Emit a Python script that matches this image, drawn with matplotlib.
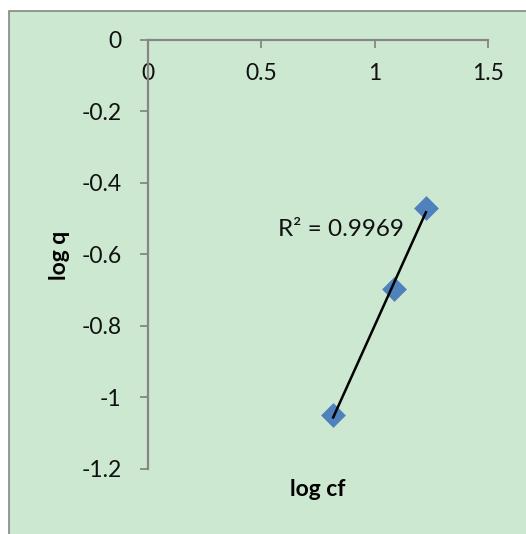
import numpy as np
import matplotlib
matplotlib.use("Agg")
import matplotlib.pyplot as plt
from matplotlib.patches import Rectangle

plt.rcParams['font.family'] = ['Lato', 'DejaVu Sans']

# data
log_cf = [0.817, 1.087, 1.226]
log_q = [-1.05, -0.697, -0.47]
x_ticks = [0, 0.5, 1, 1.5]
x_tick_labels = ["0", "0.5", "1", "1.5"]
y_ticks = [0, -0.2, -0.4, -0.6, -0.8, -1, -1.2]
y_tick_labels = ["0", "-0.2", "-0.4", "-0.6", "-0.8", "-1", "-1.2"]
r2_text = "R² = 0.9969"

W, H = 526, 534
fig = plt.figure(figsize=(W / 100, H / 100), dpi=100)
fig.patch.set_facecolor("white")

# chart area background with border
bg = Rectangle((8.5 / W, -0.01), 1.1, 1 - 10.5 / H + 0.01, transform=fig.transFigure,
               facecolor="#cde8d0", edgecolor="#868686", linewidth=1.2, zorder=-5)
fig.patches.append(bg)

ax = fig.add_axes([148 / W, 1 - 468.7 / H, 340 / W, (468.7 - 39.7) / H])
ax.set_zorder(2)
ax.set_facecolor("none")
ax.set_xlim(0, 1.5)
ax.set_ylim(-1.2, 0)

# linear trend line
slope, intercept = np.polyfit(log_cf, log_q, 1)
xs = np.array([min(log_cf), max(log_cf)])
ax.plot(xs, slope * xs + intercept, color="black", linewidth=1.8, zorder=3)

ax.scatter(log_cf, log_q, marker="D", s=160, color="#4f81bd", zorder=2, linewidths=0)

ax.text(0.575, -0.53, r2_text, fontsize=17.5, color="#111111", ha="left", va="center")

# axes like excel: x axis crossing at y=0
for s in ["top", "right"]:
    ax.spines[s].set_visible(False)
ax.spines["bottom"].set_position(("data", 0))
for s in ["bottom", "left"]:
    ax.spines[s].set_color("#868686")
    ax.spines[s].set_linewidth(1.6)

ax.set_xticks(x_ticks)
ax.set_xticklabels(x_tick_labels)
ax.set_yticks(y_ticks)
ax.set_yticklabels(y_tick_labels)
ax.tick_params(axis="both", direction="out", length=6, width=1.3, color="#868686",
               labelsize=16.5, labelcolor="#111111")
ax.tick_params(axis="x", pad=11)
ax.tick_params(axis="y", pad=13)

fig.text(318 / W, 1 - 489 / H, "log cf", fontsize=16.5, fontweight="bold",
         ha="center", va="center", zorder=3)
fig.text(60 / W, 1 - 255 / H, "log q", fontsize=16.5, fontweight="bold",
         ha="center", va="center", rotation=90, zorder=3)

fig.savefig("out.png", dpi=100)
